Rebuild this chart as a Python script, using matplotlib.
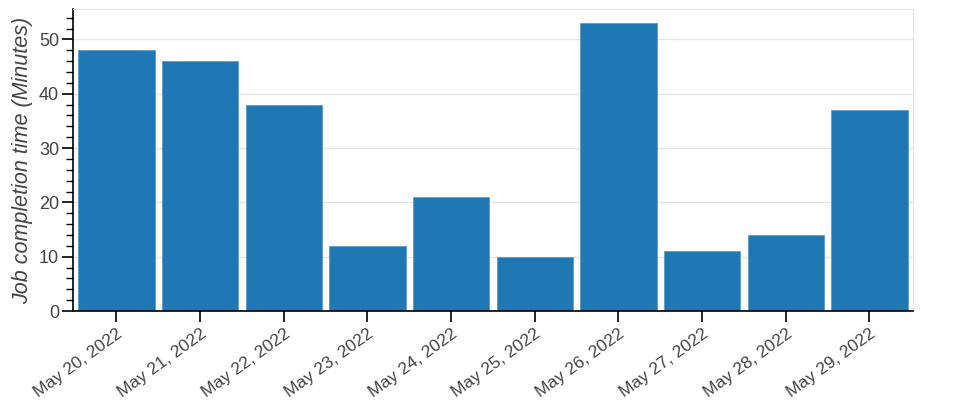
import numpy as np
import matplotlib.pyplot as plt
from matplotlib.ticker import MultipleLocator

dates = ['May 20, 2022', 'May 21, 2022', 'May 22, 2022', 'May 23, 2022', 'May 24, 2022',
         'May 25, 2022', 'May 26, 2022', 'May 27, 2022', 'May 28, 2022', 'May 29, 2022']
minutes = [48, 46, 38, 12, 21, 10, 53, 11, 14, 37]

plt.rcParams['font.family'] = ['Liberation Sans', 'DejaVu Sans']
txt = '#444444'

fig = plt.figure(figsize=(9.6, 4.0), dpi=100)
ax = fig.add_axes([0.076, 0.2225, 0.875, 0.755])
x = np.arange(len(dates))
ax.bar(x, minutes, width=0.91, color='#1f77b4', edgecolor='#5b9bd0', linewidth=0.6, zorder=2)

ax.set_xlim(-0.52, 9.52)
ax.set_ylim(0, 55.6)
ax.set_xticks(x)
ax.set_xticklabels(dates, rotation=36, ha='right', rotation_mode='anchor', color=txt, fontsize=12.5)
ax.yaxis.set_major_locator(MultipleLocator(10))
ax.yaxis.set_minor_locator(MultipleLocator(2))
ax.tick_params(axis='y', which='major', length=8, width=1.2, labelsize=13, labelcolor=txt, pad=2)
ax.tick_params(axis='y', which='minor', length=5, width=1.0)
ax.tick_params(axis='x', which='major', length=8, width=1.2, pad=3)
ax.grid(axis='y', color='#e5e5e5', linewidth=1, zorder=0)
ax.set_axisbelow(True)

for s in ['top', 'right']:
    ax.spines[s].set_color('#e5e5e5')
for s in ['left', 'bottom']:
    ax.spines[s].set_color('black')
    ax.spines[s].set_linewidth(1.2)

ax.set_ylabel('Job completion time (Minutes)', fontsize=15.5, style='italic', color=txt, labelpad=4)

plt.savefig('out.png', dpi=100)
